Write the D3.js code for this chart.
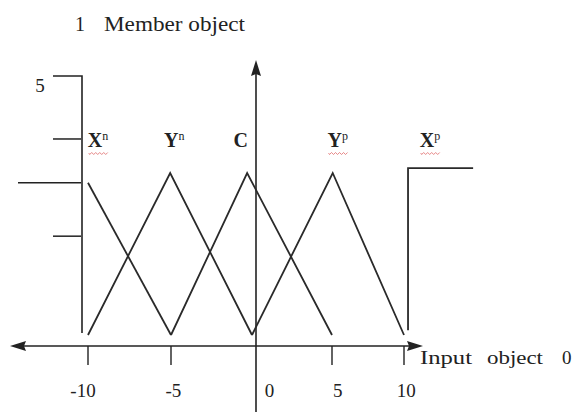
<!DOCTYPE html>
<html><head><meta charset="utf-8">
<script src="https://cdn.jsdelivr.net/npm/d3@7"></script>
<style>body{margin:0;background:#fff}svg{display:block}text{font-family:"Liberation Serif","Times New Roman",serif;fill:#222}</style>
</head><body>
<svg id="c" width="575" height="412"></svg>
<script>
// ---- data ----
const xTicks = [-10, -5, 5, 10];
const xTickLabels = ["-10", "-5", "0", "5", "10"];
const xTickLabelPos = [-10.3, -4.85, 1.1, 5.4, 10.15];
// membership functions: [x, membership]
const setNames = ["Xn", "Yn", "C", "Yp", "Xp"];
const setLabelPos = [-9.4, -4.8, -0.7, 5.4, 11.8];
const xnShape = [[-10, 0.94], [-5, 0]];
const ynShape = [[-10, 0], [-5.05, 1], [0, 0]];
const cShape = [[-5, 0], [-0.3, 1], [5, 0]];
const ypShape = [[0, 0], [5.05, 1], [10, 0]];
const xpShape = [[10.28, 0.03], [10.28, 1.03], [14.8, 1.03]];
const yAxisTicks = [5];
const yLeftMarks = [1.21, 0.94, 0.61];

// ---- scales ----
const svg = d3.select("#c");
const x = d3.scaleLinear().domain([-10, -5, 0, 5, 10]).range([88, 171, 252, 332, 404]);
const y = d3.scaleLinear().domain([0, 1]).range([335, 173]);
const xAxisY = 346, yAxisX = x(0.25);
const ink = "#222";

// title
svg.append("text").attr("x", 75).attr("y", 31).attr("font-size", 20).text("1");
svg.append("text").attr("x", 104).attr("y", 31).attr("font-size", 20)
  .attr("textLength", 141).attr("lengthAdjust", "spacingAndGlyphs").text("Member object");

// x axis line with arrows
svg.append("line").attr("x1", 22).attr("x2", 410).attr("y1", xAxisY).attr("y2", xAxisY)
  .attr("stroke", ink).attr("stroke-width", 1.6);
svg.append("path").attr("d", `M10,${xAxisY} L26,${xAxisY-5} L24,${xAxisY} L26,${xAxisY+5}Z`).attr("fill", ink);
svg.append("path").attr("d", `M423,${xAxisY} L407,${xAxisY-5} L409,${xAxisY} L407,${xAxisY+5}Z`).attr("fill", ink);

// x ticks
svg.selectAll(".xt").data(xTicks).join("line")
  .attr("x1", d => x(d)).attr("x2", d => x(d)).attr("y1", xAxisY).attr("y2", xAxisY + 19)
  .attr("stroke", ink).attr("stroke-width", 1.4);
svg.selectAll(".xl").data(xTickLabels).join("text")
  .attr("x", (d, i) => x(xTickLabelPos[i])).attr("y", 397).attr("font-size", 19)
  .attr("text-anchor", "middle").text(d => d);

// axis label
svg.append("text").attr("x", 420).attr("y", 364).attr("font-size", 19)
  .attr("textLength", 52).attr("lengthAdjust", "spacingAndGlyphs").text("Input");
svg.append("text").attr("x", 487).attr("y", 364).attr("font-size", 19)
  .attr("textLength", 56).attr("lengthAdjust", "spacingAndGlyphs").text("object");
svg.append("text").attr("x", 562).attr("y", 364).attr("font-size", 19).text("0");

// y axis with arrow
svg.append("line").attr("x1", yAxisX).attr("x2", yAxisX).attr("y1", 72).attr("y2", 412)
  .attr("stroke", ink).attr("stroke-width", 1.6);
svg.append("path").attr("d", `M${yAxisX},60 L${yAxisX-5},76 L${yAxisX},74 L${yAxisX+5},76Z`).attr("fill", ink);

// left frame
const frameX = 82;
svg.append("path").attr("d", `M53,76 L${frameX},76 L${frameX},333`).attr("fill", "none")
  .attr("stroke", ink).attr("stroke-width", 1.6);
svg.selectAll(".yt").data(yAxisTicks).join("text").attr("x", 40).attr("y", 92)
  .attr("font-size", 19).attr("text-anchor", "middle").text(d => d);
svg.selectAll(".ym").data(yLeftMarks).join("line")
  .attr("x1", (d, i) => i === 1 ? 18 : 53).attr("x2", frameX - 1)
  .attr("y1", d => y(d)).attr("y2", d => y(d)).attr("stroke", ink).attr("stroke-width", 1.5);

// membership functions
const line = d3.line().x(d => x(d[0])).y(d => y(d[1]));
[xnShape, ynShape, cShape, ypShape, xpShape].forEach(s => {
  svg.append("path").attr("d", line(s)).attr("fill", "none").attr("stroke", "#2a2a2a")
    .attr("stroke-width", 1.8).attr("stroke-linejoin", "miter");
});

// set labels
const base = ["X", "Y", "C", "Y", "X"];
const sup = ["n", "n", "", "p", "p"];
setNames.forEach((n, i) => {
  const t = svg.append("text").attr("x", x(setLabelPos[i])).attr("y", 147).attr("font-size", 20)
    .attr("text-anchor", "middle").attr("font-weight", "bold").attr("fill", "#333");
  t.append("tspan").text(base[i]);
  if (sup[i]) t.append("tspan").attr("font-size", 12).attr("font-weight", "normal").attr("dy", -7).text(sup[i]);
  if (i !== 1 && i !== 2) {
    const bb = t.node().getBBox();
    let d = `M${bb.x + 1},153`;
    for (let k = bb.x + 1; k < bb.x + bb.width - 1; k += 2) d += ` L${k + 1},${(k - bb.x) % 4 < 2 ? 154.5 : 152.5}`;
    svg.append("path").attr("d", d).attr("fill", "none").attr("stroke", "#e06a6a").attr("stroke-width", 0.8);
  }
});
</script>
</body></html>
